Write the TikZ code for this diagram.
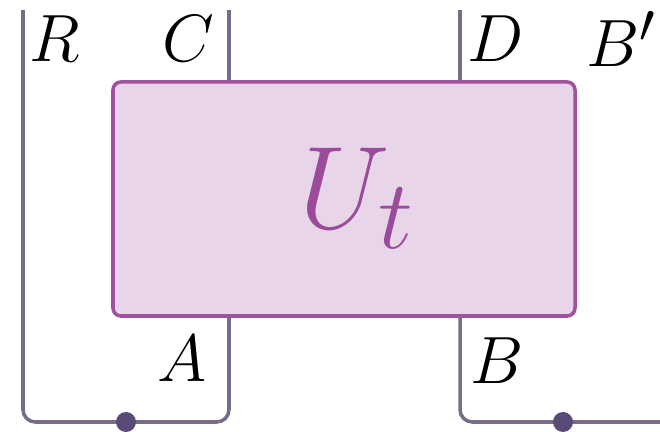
\documentclass[tikz,border=0pt]{standalone}
\usepackage{amsmath}
\usetikzlibrary{calc,positioning}
\definecolor{wirecol}{HTML}{786C8A}
\definecolor{dotcol}{HTML}{5A4A78}
\definecolor{boxfill}{HTML}{E9D5E9}
\definecolor{boxdraw}{HTML}{A052A0}
\definecolor{opcol}{HTML}{9A4C9A}

\begin{document}
\begin{tikzpicture}[
  wire/.style={draw=wirecol,line width=2pt,rounded corners=7pt},
  gatebox/.style={draw=boxdraw,fill=boxfill,line width=2pt,rounded corners=4.5pt,
    minimum width=9.24cm,minimum height=4.68cm,inner sep=0pt},
  wirelabel/.style={font=\Huge,scale=1.53,transform shape,inner sep=0pt},
  dot/.style={circle,fill=dotcol,minimum size=0.4cm,inner sep=0pt}]
\useasboundingbox (0,0) rectangle (13.2,8.64);
\node[gatebox] (box) at (6.88,4.66) {};
\node[anchor=base west,inner sep=0pt,opcol,font=\Huge,scale=2.69,transform shape] (op) at (5.98,4.06) {$U_t$};
% wire ends
\coordinate (rtop) at (0.46,8.44);
\coordinate (ctop) at (4.58,8.44);
\coordinate (dtop) at (9.20,8.44);
\coordinate (ldot) at (2.52,0.2);
\coordinate (rdot) at (11.26,0.2);
\coordinate (rend) at (13.2,0.2);
\draw[wire] (ctop) -- (box.north -| ctop);
\draw[wire] (dtop) -- (box.north -| dtop);
\draw[wire] (rtop) |- (ldot) -| (box.south -| ctop);
\draw[wire] (box.south -| dtop) |- (rdot) -- (rend);
\node[dot] (bellleft) at (ldot) {};
\node[dot] (bellright) at (rdot) {};
% labels
\node[wirelabel] (lr) at (1.10,7.86) {$R$};
\node[wirelabel] (lc) at (3.76,7.86) {$C$};
\node[wirelabel] (ld) at (9.92,7.86) {$D$};
\node[wirelabel] (lbp) at (12.42,7.86) {$B'$};
\node[wirelabel] (la) at (3.64,1.46) {$A$};
\node[wirelabel] (lb) at (9.94,1.42) {$B$};
\end{tikzpicture}
\end{document}
